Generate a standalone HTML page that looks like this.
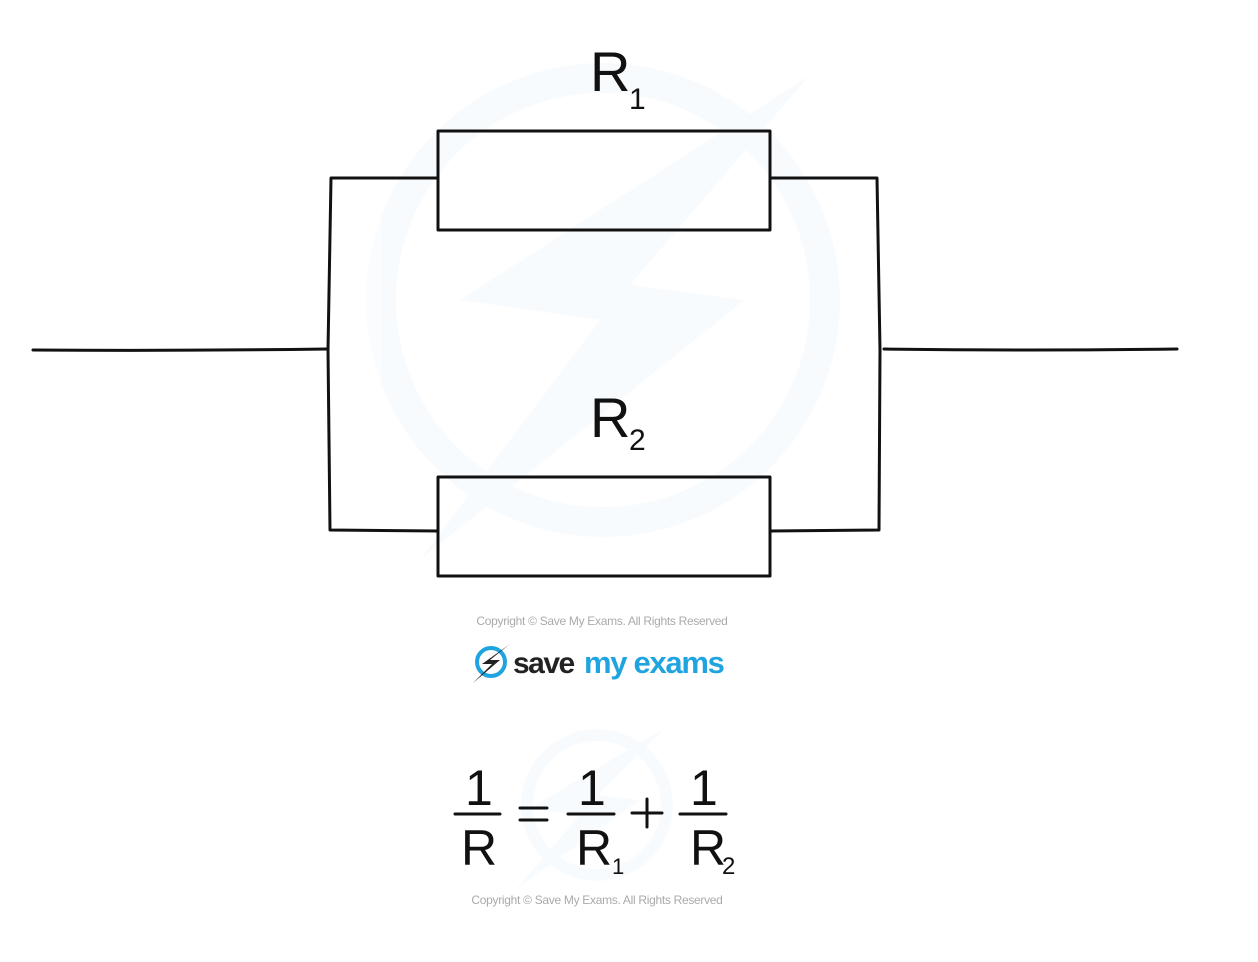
<!DOCTYPE html>
<html><head><meta charset="utf-8"><style>
html,body{margin:0;padding:0;background:#fff;}
svg{display:block;}
</style></head><body>
<svg width="1258" height="962" viewBox="0 0 1258 962" xmlns="http://www.w3.org/2000/svg">
<g opacity="0.025" fill="#1a8fd0">
<circle cx="603" cy="300" r="222" fill="none" stroke="#1a8fd0" stroke-width="30"/>
<polygon points="810,75 460,300 600,320 420,560 745,300 630,285"/>
<circle cx="597" cy="805" r="70" fill="none" stroke="#1a8fd0" stroke-width="12"/>
<polygon points="665,728 530,808 580,815 515,890 640,800 598,795"/>
</g>
<g fill="none" stroke="#111" stroke-width="3" stroke-linejoin="round" stroke-linecap="round">
<path d="M33,350 Q180,351 327,349"/>
<path d="M438,178 L331,178 L328,350 L330,530 L438,531"/>
<path d="M770,178 L877,178 L880,350 L879,530 L770,531"/>
<path d="M884,349 Q1030,351 1177,349"/>
<rect x="438" y="131" width="332" height="99"/>
<rect x="438" y="477" width="332" height="99"/>
</g>
<g font-family="Liberation Sans, sans-serif" fill="#111">
<text x="590" y="91" font-size="56">R</text>
<text x="629" y="109" font-size="30">1</text>
<text x="590" y="437" font-size="56">R</text>
<text x="629" y="450" font-size="30">2</text>
</g>
<text x="602" y="625" text-anchor="middle" font-family="Liberation Sans, sans-serif" font-size="12" fill="#aaa" letter-spacing="-0.3">Copyright © Save My Exams. All Rights Reserved</text>
<circle cx="491" cy="662" r="14" fill="none" stroke="#1fa4e0" stroke-width="4"/>
<polygon points="510,644 482,664 492,664 473,683 500,660 490,660" fill="#222"/>
<text x="513" y="673" font-family="Liberation Sans, sans-serif" font-size="30" font-weight="bold" fill="#222" letter-spacing="-1.5">save</text>
<text x="584" y="673" font-family="Liberation Sans, sans-serif" font-size="31" font-weight="bold" fill="#1fa4e0" letter-spacing="-1.3">my exams</text>
<g font-family="Liberation Sans, sans-serif" fill="#111" font-size="50">
<text x="465" y="805">1</text>
<text x="461" y="865">R</text>
<text x="578" y="805">1</text>
<text x="576" y="865">R</text>
<text x="612" y="874" font-size="22">1</text>
<text x="690" y="805">1</text>
<text x="690" y="865">R</text>
<text x="722" y="874" font-size="24">2</text>
</g>
<g stroke="#111" stroke-width="3" stroke-linecap="round">
<line x1="455" y1="814" x2="500" y2="814"/>
<line x1="568" y1="814" x2="614" y2="814"/>
<line x1="680" y1="814" x2="726" y2="814"/>
<line x1="520" y1="808" x2="547" y2="808"/>
<line x1="520" y1="820" x2="547" y2="820"/>
<line x1="632" y1="813" x2="662" y2="813"/>
<line x1="647" y1="799" x2="647" y2="827"/>
</g>
<text x="597" y="904" text-anchor="middle" font-family="Liberation Sans, sans-serif" font-size="12" fill="#aaa" letter-spacing="-0.3">Copyright © Save My Exams. All Rights Reserved</text>
</svg>
</body></html>
